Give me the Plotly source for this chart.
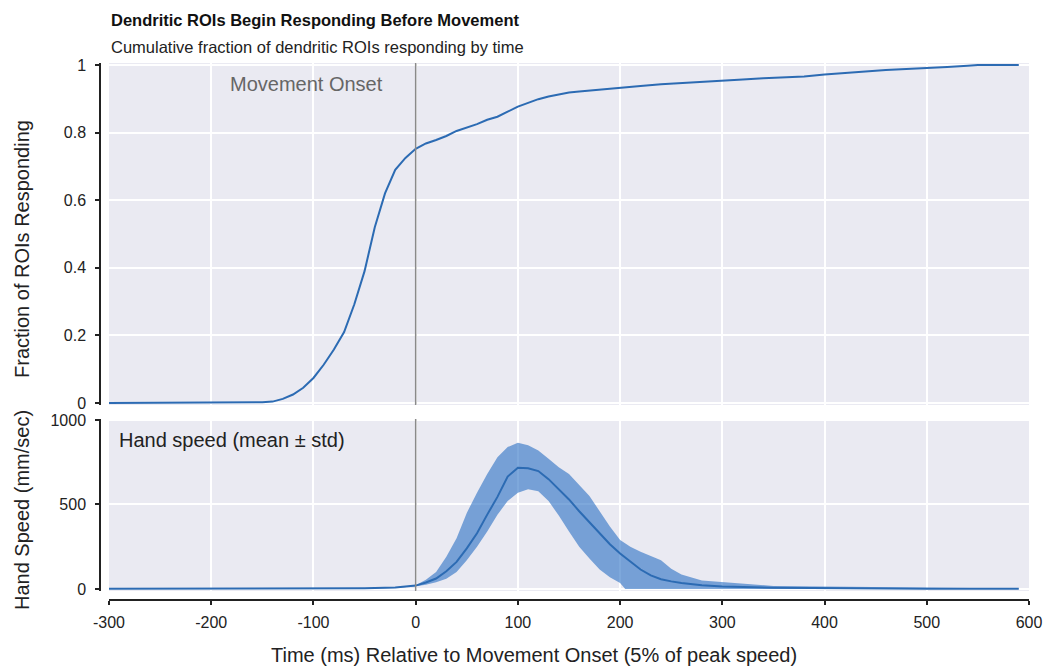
import plotly.graph_objects as go

# Cumulative fraction of dendritic ROIs responding
roi_time = [-300, -200, -150, -140, -130, -120, -110, -100, -90, -80, -70, -60, -50,
            -40, -30, -20, -10, 0, 10, 20, 30, 40, 50, 60, 70, 80, 90, 100, 110, 120,
            130, 140, 150, 160, 170, 180, 200, 220, 240, 260, 280, 300, 320, 340, 360,
            380, 400, 420, 440, 460, 480, 500, 520, 540, 550, 590]
roi_fraction = [0.0, 0.0, 0.002, 0.004, 0.012, 0.025, 0.045, 0.074, 0.113, 0.158, 0.21,
                0.292, 0.39, 0.52, 0.62, 0.69, 0.725, 0.752, 0.768, 0.778, 0.79, 0.805,
                0.815, 0.825, 0.838, 0.847, 0.862, 0.877, 0.888, 0.899, 0.907, 0.914,
                0.919, 0.922, 0.925, 0.928, 0.934, 0.938, 0.943, 0.946, 0.95, 0.953,
                0.957, 0.961, 0.963, 0.966, 0.972, 0.977, 0.982, 0.985, 0.988, 0.99,
                0.994, 0.998, 1.0, 1.0]

# Hand speed: mean and mean ± std envelope (mm/sec)
speed_time = [-300, -200, -100, -50, -20, -10, 0, 10, 20, 30, 40, 50, 60, 70, 80, 90,
              100, 110, 120, 130, 140, 150, 160, 170, 180, 190, 200, 205, 210, 220, 230,
              240, 250, 260, 280, 300, 350, 400, 500, 590]
speed_mean = [2, 2, 3, 4, 8, 12, 20, 38, 62, 105, 160, 240, 330, 440, 545, 665,
              718, 715, 698, 650, 590, 530, 460, 395, 330, 265, 210, 185, 160, 115, 80,
              58, 45, 35, 22, 14, 7, 4, 2, 1]
speed_upper = [4, 4, 5, 6, 10, 14, 22, 55, 100, 190, 300, 450, 570, 680, 780, 840,
               866, 850, 820, 770, 720, 680, 615, 550, 460, 370, 290, 270, 250, 220, 195,
               170, 120, 85, 50, 40, 18, 14, 6, 2]
speed_lower = [0, 0, 1, 2, 6, 10, 16, 25, 40, 60, 100, 170, 250, 340, 440, 520,
               570, 590, 578, 520, 435, 340, 250, 180, 115, 70, 35, 0, 0, 0, 0,
               0, 0, 0, 0, 0, 0, 0, 0, 0]

x_ticks = [-300, -200, -100, 0, 100, 200, 300, 400, 500, 600]
x_tick_text = ["-300", "-200", "-100", "0", "100", "200", "300", "400", "500", "600"]
roi_ticks = [0, 0.2, 0.4, 0.6, 0.8, 1]
roi_tick_text = ["0", "0.2", "0.4", "0.6", "0.8", "1"]
speed_ticks = [0, 500, 1000]
speed_tick_text = ["0", "500", "1000"]

W, H = 1044, 666
LINE = "#2c6bb3"
BAND = "rgba(40,110,195,0.6)"
BG = "#eaeaf2"
INK = "#222222"
FONT = "Liberation Sans, Arial, Helvetica, sans-serif"


def px_x(p):
    return p / W


def px_y(p):
    return 1 - p / H


fig = go.Figure()

fig.add_trace(go.Scatter(x=roi_time, y=roi_fraction, mode="lines",
                         line=dict(color=LINE, width=2), xaxis="x", yaxis="y",
                         showlegend=False, hoverinfo="skip"))

fig.add_trace(go.Scatter(x=speed_time, y=speed_upper, mode="lines",
                         line=dict(width=0, color=BAND), xaxis="x2", yaxis="y2",
                         showlegend=False, hoverinfo="skip"))
fig.add_trace(go.Scatter(x=speed_time, y=speed_lower, mode="lines",
                         line=dict(width=0, color=BAND), fill="tonexty", fillcolor=BAND,
                         xaxis="x2", yaxis="y2", showlegend=False, hoverinfo="skip"))
fig.add_trace(go.Scatter(x=speed_time, y=speed_mean, mode="lines",
                         line=dict(color=LINE, width=2), xaxis="x2", yaxis="y2",
                         showlegend=False, hoverinfo="skip"))

x_dom = [px_x(109), px_x(1029)]
tick_font = dict(family=FONT, size=16, color=INK)
title_size = 20

common_x = dict(range=[-300, 600], domain=x_dom, tickvals=x_ticks, ticktext=x_tick_text,
                showgrid=True, gridcolor="white", gridwidth=1.5, zeroline=False,
                automargin=False)
axis_line = dict(showline=True, linecolor=INK, linewidth=1.5, ticks="outside",
                 ticklen=4, tickcolor=INK, tickwidth=1.5, tickfont=tick_font)

fig.update_layout(
    width=W, height=H,
    margin=dict(l=0, r=0, t=0, b=0),
    paper_bgcolor="white",
    plot_bgcolor=BG,
    font=dict(family=FONT),
    xaxis=dict(**common_x, anchor="y", showticklabels=False, ticks="", showline=False),
    xaxis2=dict(**common_x, anchor="free", position=px_y(600), ticklabelstandoff=4,
                **axis_line),
    yaxis=dict(domain=[px_y(405), px_y(63)], range=[-0.006, 1.006], anchor="free",
               position=px_x(100), tickvals=roi_ticks, ticktext=roi_tick_text,
               showgrid=True, gridcolor="white", gridwidth=1.5, zeroline=False,
               automargin=False, ticklabelstandoff=6, **axis_line),
    yaxis2=dict(domain=[px_y(591), px_y(419)], range=[-12, 1006], anchor="free",
                position=px_x(100), tickvals=speed_ticks, ticktext=speed_tick_text,
                showgrid=True, gridcolor="white", gridwidth=1.5, zeroline=False,
                automargin=False, ticklabelstandoff=6, **axis_line),
)

# Movement onset marker in both panels
for xr, yr in (("x", "y domain"), ("x2", "y2 domain")):
    fig.add_shape(type="line", x0=0, x1=0, y0=0, y1=1, xref=xr, yref=yr,
                  line=dict(color="#8a8a8a", width=1.5), layer="above")

fig.add_annotation(x=0, y=0.94, xref="x", yref="y domain", text="Movement Onset",
                   showarrow=False, xanchor="right", yanchor="middle", xshift=-31,
                   font=dict(family=FONT, size=title_size, color="#666666"))
fig.add_annotation(x=-300, y=0.88, xref="x2", yref="y2 domain",
                   text="Hand speed (mean ± std)", showarrow=False, xanchor="left",
                   yanchor="middle", xshift=8,
                   font=dict(family=FONT, size=title_size, color=INK))

# Axis titles
fig.add_annotation(x=px_x(22), y=px_y(249), xref="paper", yref="paper",
                   text="Fraction of ROIs Responding", textangle=-90, showarrow=False,
                   xanchor="center", yanchor="middle",
                   font=dict(family=FONT, size=title_size, color=INK))
fig.add_annotation(x=px_x(22), y=px_y(510), xref="paper", yref="paper",
                   text="Hand Speed (mm/sec)", textangle=-90, showarrow=False,
                   xanchor="center", yanchor="middle",
                   font=dict(family=FONT, size=title_size, color=INK))
fig.add_annotation(x=px_x(534), y=px_y(655), xref="paper", yref="paper",
                   text="Time (ms) Relative to Movement Onset (5% of peak speed)",
                   showarrow=False, xanchor="center", yanchor="middle",
                   font=dict(family=FONT, size=title_size, color=INK))

# Heading
fig.add_annotation(x=px_x(109), y=px_y(20), xref="paper", yref="paper",
                   text="<b>Dendritic ROIs Begin Responding Before Movement</b>",
                   showarrow=False, xanchor="left", yanchor="middle",
                   font=dict(family=FONT, size=16.5, color="#111111"))
fig.add_annotation(x=px_x(109), y=px_y(47), xref="paper", yref="paper",
                   text="Cumulative fraction of dendritic ROIs responding by time",
                   showarrow=False, xanchor="left", yanchor="middle",
                   font=dict(family=FONT, size=16.5, color=INK))

fig.write_html("out.html")
